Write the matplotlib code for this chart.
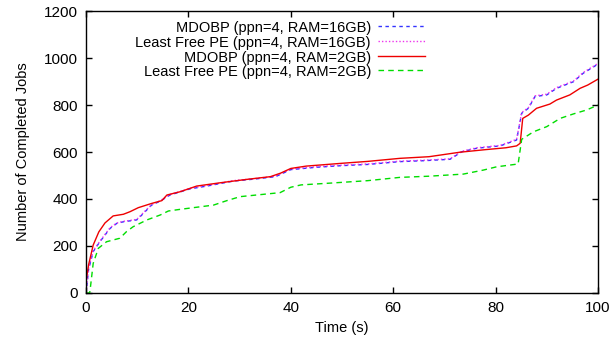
import matplotlib
matplotlib.use("Agg")
import matplotlib.pyplot as plt

plt.rcParams['font.family'] = ['Liberation Sans', 'DejaVu Sans']

# MDOBP (ppn=4, RAM=16GB)
mdobp16_t = [0, 0.5, 1.4, 2.7, 4.7, 6.0, 7.3, 9.9, 10.9, 12.8, 14.5, 16.4, 20.3, 23.6,
             28.7, 33, 37, 40, 45, 50, 55, 61.3, 66, 71.1, 73.4, 76.3, 80.9, 84.1,
             85.1, 86.4, 87.7, 90.0, 91.9, 95.2, 97.1, 99.7, 100]
mdobp16_n = [0, 100, 176, 218, 275, 296, 303, 311, 332, 374, 391, 417, 443, 455,
             476, 485, 495, 525, 535, 542, 547, 559, 563, 569, 601, 616, 626, 651,
             765, 786, 836, 843, 871, 899, 935, 970, 975]

# Least Free PE (ppn=4, RAM=16GB)
lf16_t = [0, 0.5, 1.4, 2.7, 4.7, 6.0, 7.3, 9.9, 10.9, 12.8, 14.5, 16.4, 20.3, 23.6,
          28.7, 33, 37, 40, 45, 50, 55, 61.3, 66, 71.1, 73.4, 76.3, 80.9, 84.1,
          85.1, 86.4, 87.7, 90.0, 91.9, 95.2, 97.1, 99.7, 100]
lf16_n = [0, 105, 180, 220, 278, 298, 305, 313, 335, 376, 393, 419, 445, 457,
          478, 487, 497, 527, 537, 544, 549, 561, 565, 571, 603, 618, 628, 654,
          768, 789, 839, 846, 874, 902, 938, 973, 978]

# MDOBP (ppn=4, RAM=2GB)
mdobp2_t = [0, 0.5, 1.4, 2.5, 3.7, 5.3, 7.3, 8.6, 10.2, 12.8, 14.8, 15.8, 18.4, 21.6,
            26.2, 28.7, 32, 36, 38, 40, 43, 50, 55, 61.3, 67, 73, 78, 82, 84.1,
            84.8, 85.3, 86.4, 88, 90.6, 91.9, 94.5, 96.5, 98, 100]
mdobp2_n = [50, 120, 204, 260, 298, 328, 335, 346, 363, 381, 393, 417, 431, 455,
            469, 476, 485, 495, 510, 530, 540, 552, 560, 573, 580, 599, 610, 618, 626,
            637, 743, 757, 786, 804, 821, 843, 871, 885, 910]

# Least Free PE (ppn=4, RAM=2GB)
lf2_t = [0, 0.7, 0.8, 1.4, 2.4, 4.0, 6.6, 7.9, 9.2, 11.9, 14.5, 16.1, 18.4, 24.9,
         27.5, 30.1, 37.9, 40, 42, 48, 55, 61.3, 67, 73.7, 77.6, 80.2, 84.4, 85.1,
         87.4, 90.0, 92.6, 95.2, 97.8, 100]
lf2_n = [0, 0, 13, 126, 190, 218, 233, 261, 282, 311, 332, 349, 356, 374,
         393, 410, 427, 450, 460, 468, 478, 492, 497, 506, 523, 537, 549, 654,
         686, 708, 743, 762, 779, 800]

fig = plt.figure(figsize=(6.11, 3.41), dpi=100)
ax = fig.add_axes([0.1408, 0.1408, 0.8379, 0.8269])

ax.plot(mdobp16_t, mdobp16_n, color='#3333ff', lw=1.0, dashes=(2.5, 2.5),
        label='MDOBP (ppn=4, RAM=16GB)')
ax.plot(lf16_t, lf16_n, color='#ee33ee', lw=1.0, dashes=(1, 1.5),
        label='Least Free PE (ppn=4, RAM=16GB)')
ax.plot(mdobp2_t, mdobp2_n, color='#ee0000', lw=1.0,
        label='MDOBP (ppn=4, RAM=2GB)')
ax.plot(lf2_t, lf2_n, color='#00dd00', lw=1.0, dashes=(4, 3),
        label='Least Free PE (ppn=4, RAM=2GB)')

ax.set_xlim(0, 100)
ax.set_ylim(0, 1200)
ax.set_xticks([0, 20, 40, 60, 80, 100])
ax.set_yticks(range(0, 1201, 200))
ax.tick_params(direction='in', length=4.5, width=1.0, top=True, right=True,
               labelsize=11, pad=6)
for s in ax.spines.values():
    s.set_linewidth(1.0)

ax.set_xlabel('Time (s)', fontsize=10.5, labelpad=4)
ax.set_ylabel('Number of Completed Jobs', fontsize=10.5, labelpad=10)

leg = ax.legend(loc='upper left', bbox_to_anchor=(0.085, 0.985), frameon=False,
                markerfirst=False, fontsize=10.5, handlelength=3.2,
                handletextpad=0.5, labelspacing=0.05, borderaxespad=0)
# right-align the legend rows (gnuplot style)
col = leg._legend_box._children[-1]._children[0]
for row in col._children:
    row.align = "right"
col.align = "right"

fig.savefig('out.png', dpi=100)
